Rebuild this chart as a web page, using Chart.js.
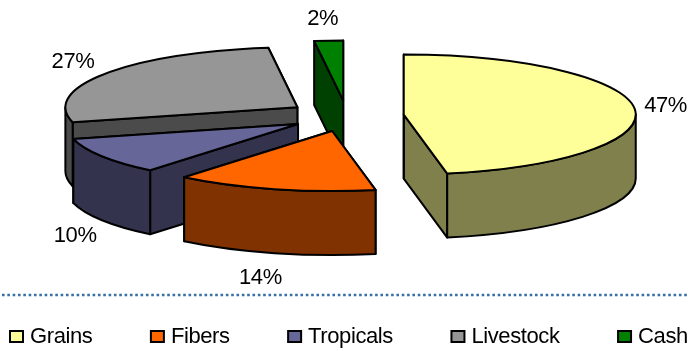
<!DOCTYPE html>
<html lang="en">
<head>
    <meta charset="UTF-8">
    <title>Crop shares</title>
    <script src="https://cdn.jsdelivr.net/npm/chart.js"></script>
    <style>
        body {
            margin: 0;
            background-color: #fff;
        }
        canvas {
            display: block;
        }
    </style>
</head>
<body>
    <canvas id="cropChart" width="688" height="351"></canvas>

    <script>
        const categories = ['Grains', 'Fibers', 'Tropicals', 'Livestock', 'Cash'];
        const shares = [47, 14, 10, 27, 2];
        const topColors = ['#FFFF99', '#FF6600', '#666699', '#969696', '#008000'];
        const sideColors = ['#80804D', '#803300', '#33334D', '#4B4B4B', '#004000'];

        const TILT = 60 / 232;      // squash of the pie into an ellipse
        const DEPTH = 64;           // height of the extruded wall
        const FONT = '22px "Liberation Sans", Arial, sans-serif';
        const LETTER_SPACING = '-0.4px';
        // small hand adjustments so the percent labels clear the walls
        const LABEL_NUDGE = [[-1, -1], [-6, 3], [0, 4], [-6, 1], [-4, 0]];

        // Screen geometry of one slice, taken from the arc element
        function sliceGeometry(arc) {
            const mid = (arc.startAngle + arc.endAngle) / 2;
            const offset = arc.options.offset;
            return {
                cx: arc.x + Math.cos(mid) * offset,
                cy: arc.y + Math.sin(mid) * offset * TILT,
                rx: arc.outerRadius,
                ry: arc.outerRadius * TILT,
                start: arc.startAngle,
                end: arc.endAngle,
                mid: mid
            };
        }

        function paint(ctx, fill) {
            ctx.fillStyle = fill;
            ctx.fill();
            ctx.stroke();
        }

        // Flat cut face running from the centre out to the rim at one angle
        function drawCutFace(ctx, s, angle, fill) {
            const x = s.cx + Math.cos(angle) * s.rx;
            const y = s.cy + Math.sin(angle) * s.ry;
            ctx.beginPath();
            ctx.moveTo(s.cx, s.cy);
            ctx.lineTo(x, y);
            ctx.lineTo(x, y + DEPTH);
            ctx.lineTo(s.cx, s.cy + DEPTH);
            ctx.closePath();
            paint(ctx, fill);
        }

        // Curved wall, only the part of the rim that faces the viewer (0..PI on canvas)
        function drawRimWall(ctx, s, fill) {
            const ranges = [[0, Math.PI], [2 * Math.PI, 3 * Math.PI]];
            ranges.forEach(([lo, hi]) => {
                const from = Math.max(s.start, lo);
                const to = Math.min(s.end, hi);
                if (to <= from) return;
                ctx.beginPath();
                ctx.ellipse(s.cx, s.cy, s.rx, s.ry, 0, from, to);
                ctx.ellipse(s.cx, s.cy + DEPTH, s.rx, s.ry, 0, to, from, true);
                ctx.closePath();
                paint(ctx, fill);
            });
        }

        function drawTopFace(ctx, s, fill) {
            ctx.beginPath();
            ctx.moveTo(s.cx, s.cy);
            ctx.ellipse(s.cx, s.cy, s.rx, s.ry, 0, s.start, s.end);
            ctx.closePath();
            paint(ctx, fill);
        }

        function drawPercentLabel(ctx, s, text, nudge) {
            const dirX = Math.cos(s.mid);
            const dirY = Math.sin(s.mid);
            const rimY = s.cy + dirY * s.ry + (dirY > 0 ? DEPTH : 0);
            ctx.fillText(text,
                s.cx + dirX * s.rx + dirX * 32 + nudge[0],
                rimY + dirY * 22 + nudge[1]);
        }

        // Turns the flat pie into an exploded 3D pie
        const pie3d = {
            id: 'pie3d',
            beforeDatasetsDraw(chart) {
                const ctx = chart.ctx;
                const arcs = chart.getDatasetMeta(0).data;
                const slices = arcs.map(sliceGeometry);

                ctx.save();
                ctx.strokeStyle = '#000';
                ctx.lineWidth = 2;
                ctx.lineJoin = 'round';

                // back to front: last slice is the furthest away
                for (let i = slices.length - 1; i >= 0; i--) {
                    const s = slices[i];
                    drawCutFace(ctx, s, s.end, sideColors[i]);
                    drawCutFace(ctx, s, s.start, sideColors[i]);
                    drawRimWall(ctx, s, sideColors[i]);
                    drawTopFace(ctx, s, topColors[i]);
                }

                ctx.fillStyle = '#000';
                ctx.font = FONT;
                ctx.letterSpacing = LETTER_SPACING;
                ctx.textAlign = 'center';
                ctx.textBaseline = 'middle';
                slices.forEach((s, i) => drawPercentLabel(ctx, s, shares[i] + '%', LABEL_NUDGE[i]));
                ctx.restore();
                return false;
            },
            afterDraw(chart) {
                const ctx = chart.ctx;
                ctx.save();

                // dotted rule above the legend
                ctx.strokeStyle = '#3A6EA5';
                ctx.lineWidth = 2.5;
                ctx.setLineDash([2.6, 2.73]);
                ctx.beginPath();
                ctx.moveTo(2, 295);
                ctx.lineTo(chart.width, 295);
                ctx.stroke();
                ctx.setLineDash([]);

                // legend row with a fixed gap between the entries
                ctx.font = FONT;
                ctx.letterSpacing = LETTER_SPACING;
                ctx.textAlign = 'left';
                ctx.textBaseline = 'alphabetic';
                ctx.lineWidth = 2;
                ctx.strokeStyle = '#000';
                let x = 10;
                categories.forEach((name, i) => {
                    ctx.fillStyle = topColors[i];
                    ctx.fillRect(x, 331, 13, 11);
                    ctx.strokeRect(x, 331, 13, 11);
                    ctx.fillStyle = '#000';
                    ctx.fillText(name, x + 20, 343);
                    x += 20 + ctx.measureText(name).width + 58.5;
                });
                ctx.restore();
            }
        };

        new Chart(document.getElementById('cropChart'), {
            type: 'pie',
            data: {
                labels: categories,
                datasets: [{
                    data: shares,
                    backgroundColor: topColors,
                    offset: [57, 60, 58, 60, 60]
                }]
            },
            options: {
                responsive: false,
                animation: false,
                radius: 232,
                layout: {
                    padding: { left: 6, bottom: 119 }
                },
                plugins: {
                    legend: { display: false },
                    tooltip: { enabled: false }
                }
            },
            plugins: [pie3d]
        });
    </script>
</body>
</html>
